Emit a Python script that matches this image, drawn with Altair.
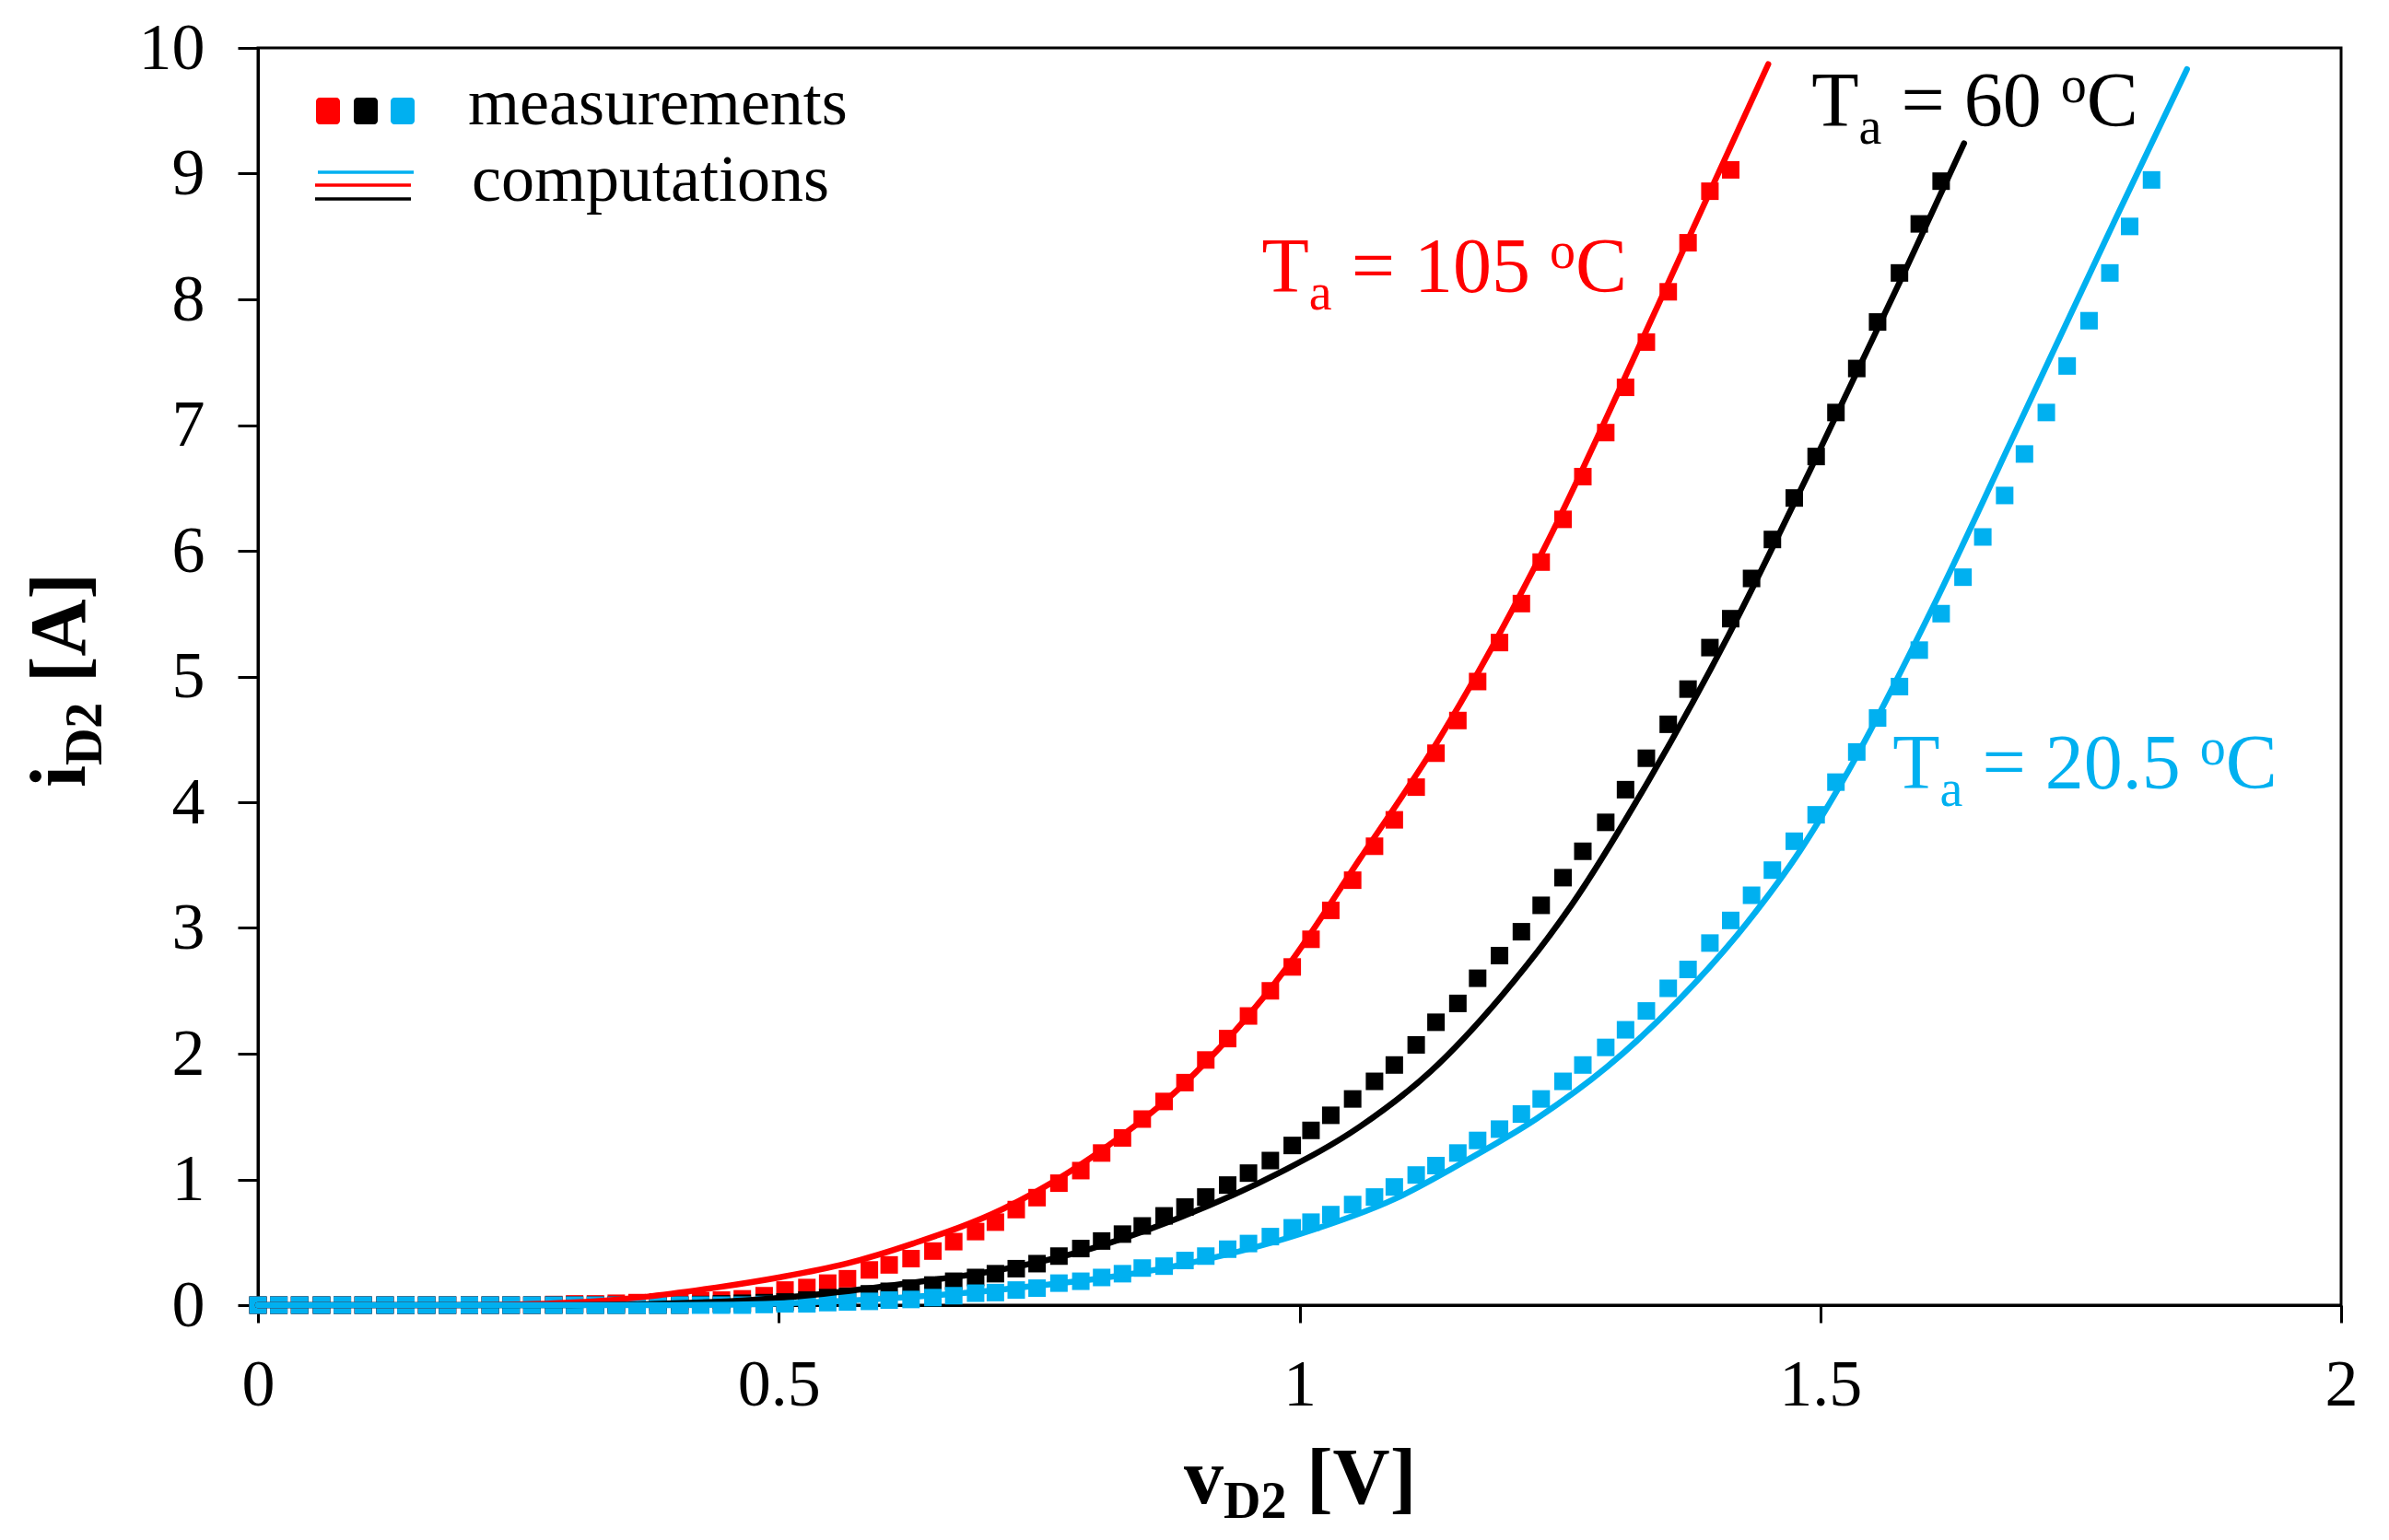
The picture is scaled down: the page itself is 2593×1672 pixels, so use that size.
import altair as alt
import pandas as pd

# ---- data ----
# measurement voltage grid, shared by the three series [V]
v_meas = [0.000, 0.020, 0.040, 0.061, 0.081, 0.101, 0.122, 0.142, 0.162, 0.182,
          0.203, 0.223, 0.243, 0.263, 0.284, 0.304, 0.324, 0.344, 0.364, 0.384,
          0.405, 0.425, 0.445, 0.465, 0.486, 0.506, 0.527, 0.547, 0.566, 0.587,
          0.606, 0.627, 0.648, 0.668, 0.689, 0.708, 0.728, 0.748, 0.769, 0.790,
          0.810, 0.830, 0.849, 0.870, 0.890, 0.910, 0.931, 0.951, 0.972, 0.993,
          1.011, 1.030, 1.051, 1.072, 1.091, 1.112, 1.131, 1.152, 1.171, 1.192,
          1.213, 1.232, 1.253, 1.272, 1.294, 1.313, 1.333, 1.354, 1.373, 1.394,
          1.414, 1.434, 1.454, 1.475, 1.496, 1.515, 1.535, 1.555, 1.576, 1.595,
          1.616, 1.637, 1.656, 1.677, 1.696, 1.717, 1.737, 1.758, 1.778, 1.797,
          1.818]

# measured current [A]
i_meas_105 = [0, 0, 0, 0, 0, 0, 0, 0, 0, 0,
              0, 0, 0, 0, 0.005, 0.01, 0.01, 0.015, 0.02, 0.025,
              0.03, 0.035, 0.04, 0.05, 0.075, 0.12, 0.14, 0.175, 0.21, 0.28,
              0.32, 0.37, 0.43, 0.505, 0.585, 0.66, 0.76, 0.855, 0.97, 1.07,
              1.21, 1.33, 1.48, 1.62, 1.77, 1.95, 2.12, 2.30, 2.50, 2.69,
              2.91, 3.14, 3.38, 3.65, 3.86, 4.12, 4.39, 4.65, 4.96, 5.27,
              5.58, 5.91, 6.25, 6.59, 6.94, 7.30, 7.66, 8.06, 8.45, 8.86,
              9.03]
i_meas_60 = [0, 0, 0, 0, 0, 0, 0, 0, 0, 0,
             0, 0, 0, 0, 0, 0, 0, 0, 0, 0,
             0, 0.005, 0.01, 0.015, 0.02, 0.025, 0.04, 0.06, 0.07, 0.09,
             0.11, 0.135, 0.16, 0.19, 0.22, 0.25, 0.29, 0.33, 0.39, 0.45,
             0.51, 0.565, 0.63, 0.71, 0.78, 0.86, 0.955, 1.05, 1.15, 1.27,
             1.39, 1.51, 1.64, 1.78, 1.91, 2.07, 2.25, 2.40, 2.60, 2.78,
             2.97, 3.18, 3.40, 3.61, 3.84, 4.10, 4.35, 4.62, 4.90, 5.23,
             5.46, 5.78, 6.09, 6.42, 6.75, 7.10, 7.45, 7.82, 8.21, 8.60,
             8.94]
i_meas_205 = [0, 0, 0, 0, 0, 0, 0, 0, 0, 0,
              0, 0, 0, 0, 0, 0, 0, 0, 0, 0,
              0, 0, 0, 0, 0.005, 0.01, 0.01, 0.02, 0.025, 0.03,
              0.04, 0.045, 0.06, 0.075, 0.095, 0.10, 0.12, 0.135, 0.175, 0.19,
              0.22, 0.25, 0.295, 0.31, 0.355, 0.39, 0.445, 0.49, 0.545, 0.615,
              0.66, 0.72, 0.80, 0.86, 0.94, 1.035, 1.11, 1.21, 1.31, 1.40,
              1.52, 1.64, 1.78, 1.91, 2.05, 2.19, 2.34, 2.52, 2.67, 2.88,
              3.06, 3.26, 3.46, 3.69, 3.90, 4.16, 4.40, 4.67, 4.92, 5.21,
              5.50, 5.79, 6.11, 6.44, 6.77, 7.10, 7.47, 7.83, 8.21, 8.58,
              8.95]

# computed curves
v_comp_105 = [0.0, 0.2, 0.25, 0.3, 0.371, 0.44, 0.5, 0.565, 0.629, 0.714,
              0.800, 0.886, 0.989, 1.058, 1.136, 1.235, 1.344, 1.450]
i_comp_105 = [0.0, 0.0, 0.005, 0.02, 0.065, 0.14, 0.22, 0.33, 0.49, 0.76,
              1.174, 1.736, 2.70, 3.55, 4.53, 6.02, 7.95, 9.87]
v_comp_60 = [0.0, 0.3, 0.45, 0.543, 0.629, 0.714, 0.800, 0.886, 0.98, 1.058,
             1.126, 1.193, 1.261, 1.335, 1.412, 1.489, 1.581, 1.638]
i_comp_60 = [0.0, 0.0, 0.03, 0.09, 0.18, 0.283, 0.45, 0.70, 1.05, 1.42,
             1.86, 2.45, 3.18, 4.17, 5.33, 6.62, 8.22, 9.24]
v_comp_205 = [0.0, 0.4, 0.55, 0.714, 0.886, 1.000, 1.092, 1.160, 1.227, 1.295,
              1.363, 1.430, 1.481, 1.527, 1.608, 1.682, 1.784, 1.852]
i_comp_205 = [0.0, 0.0, 0.03, 0.125, 0.32, 0.564, 0.847, 1.15, 1.48, 1.893,
              2.417, 3.044, 3.62, 4.25, 5.55, 6.85, 8.65, 9.83]

series = ["105", "60", "20.5"]
colors = ["#ff0000", "#000000", "#00b0f0"]

# where each "Ta = ..." label starts (data units)
label_v = [0.9637, 1.4916, 1.5694]
label_i = [8.06, 9.377, 4.11]

x_ticks = [0, 0.5, 1, 1.5, 2]
y_ticks = [0, 1, 2, 3, 4, 5, 6, 7, 8, 9, 10]

FONT = "Liberation Serif"

# ---- tables ----
meas = pd.concat([
    pd.DataFrame({"v": v_meas[:len(cur)], "i": cur, "series": s})
    for s, cur in zip(series, [i_meas_105, i_meas_60, i_meas_205])
])
comp = pd.concat([
    pd.DataFrame({"v": vv, "i": ii, "series": s})
    for s, vv, ii in zip(series, [v_comp_105, v_comp_60, v_comp_205],
                         [i_comp_105, i_comp_60, i_comp_205])
])

xscale = alt.Scale(domain=[0, 2], nice=False, zero=False)
yscale = alt.Scale(domain=[0, 10], nice=False)
cscale = alt.Scale(domain=series, range=colors)

xaxis = alt.Axis(values=x_ticks, format="~g", title=None, grid=False,
                 domainColor="black", domainWidth=3, tickColor="black",
                 tickWidth=3, tickSize=19, labelFont=FONT, labelFontSize=72,
                 labelColor="black", labelPadding=32, labelFlush=False,
                 labelOverlap=False)
yaxis = alt.Axis(values=y_ticks, format="d", title=None, grid=False,
                 domainColor="black", domainWidth=3, tickColor="black",
                 tickWidth=3, tickSize=22, labelFont=FONT, labelFontSize=72,
                 labelColor="black", labelPadding=36, labelOverlap=False)

X = alt.X("v:Q", scale=xscale, axis=xaxis)
Y = alt.Y("i:Q", scale=yscale, axis=yaxis)

squares = alt.Chart(meas).mark_square(size=361, opacity=1).encode(
    x=X, y=Y, color=alt.Color("series:N", scale=cscale, legend=None)
)
lines = alt.Chart(comp).mark_line(strokeWidth=6.5, interpolate="monotone",
                                  strokeCap="round").encode(
    x=X, y=Y, color=alt.Color("series:N", scale=cscale, legend=None)
)

# ---- rich text (sub/superscripts) built from pieces ----
REG = {"T": 0.611, "a": 0.444, " ": 0.25, "=": 0.564, ".": 0.25, "o": 0.5,
       "C": 0.667, **{d: 0.5 for d in "0123456789"}}
BOLD = {"i": 0.278, "v": 0.5, "D": 0.722, "2": 0.5, " ": 0.25, "[": 0.333,
        "]": 0.333, "A": 0.722, "V": 0.722}


def rich(pieces, big, small, color, bold, where, sub=19, sup=26, angle=0):
    # svg drops leading/trailing blanks, so spaces only move the pen
    table = BOLD if bold else REG
    out, dx = [], 0.0
    for txt, kind in pieces:
        fs = big if kind == "n" else small
        dy = {"n": 0, "sub": sub, "sup": -sup}[kind]
        core = txt.strip(" ")
        lead = len(txt) - len(txt.lstrip(" "))
        dx += lead * table[" "] * fs
        props = dict(text=core, dx=dx, dy=dy, align="left",
                     baseline="alphabetic", font=FONT, fontSize=fs, color=color,
                     fontWeight="bold" if bold else "normal")
        if angle:
            props["angle"] = angle
        if isinstance(where, pd.DataFrame):
            ch = alt.Chart(where).mark_text(**props).encode(x=X, y=Y)
        else:
            ch = alt.Chart(pd.DataFrame({"k": [0]})).mark_text(**props).encode(
                x=alt.value(where[0]), y=alt.value(where[1]))
        out.append(ch)
        dx += sum(table[c] for c in txt[lead:]) * fs
    return out


texts = []
for s, c, lv, li in zip(series, colors, label_v, label_i):
    texts += rich([("T", "n"), ("a", "sub"), (" = " + s + " ", "n"),
                   ("o", "sup"), ("C", "n")],
                  84, 56, c, False, pd.DataFrame({"v": [lv], "i": [li]}))

# axis titles
texts += rich([("v", "n"), ("D2", "sub"), (" [V]", "n")], 86, 56, "black",
              True, (1005, 1580), sub=16)
texts += rich([("i", "n"), ("D2", "sub"), (" [A]", "n")], 86, 56, "black",
              True, (-188, 803), sub=18, angle=270)

# ---- hand-drawn legend ----
one = pd.DataFrame({"k": [0]})
legend = []
for x0, c in zip([63, 104, 144], colors):
    legend.append(alt.Chart(one).mark_rect(color=c, cornerRadius=4).encode(
        x=alt.value(x0), x2=alt.value(x0 + 26), y=alt.value(54), y2=alt.value(83)))
for yy, c, x0 in zip([135, 149, 164], ["#00b0f0", "#ff0000", "#000000"], [65, 62, 62]):
    legend.append(alt.Chart(one).mark_rule(color=c, strokeWidth=3.5).encode(
        x=alt.value(x0), x2=alt.value(x0 + 104), y=alt.value(yy)))
for txt, xx, yy in [("measurements", 228, 83), ("computations", 232, 166)]:
    legend.append(alt.Chart(one).mark_text(
        text=txt, align="left", baseline="alphabetic", font=FONT, fontSize=72,
        color="black").encode(x=alt.value(xx), y=alt.value(yy)))

chart = alt.layer(squares, lines, *texts, *legend).properties(
    width=2261, height=1365, autosize="none",
    padding={"left": 272, "top": 44, "right": 30, "bottom": 246},
).configure(font=FONT).configure_view(stroke="black", strokeWidth=3)

chart.save("out.html", embed_options={"renderer": "svg", "actions": False})
